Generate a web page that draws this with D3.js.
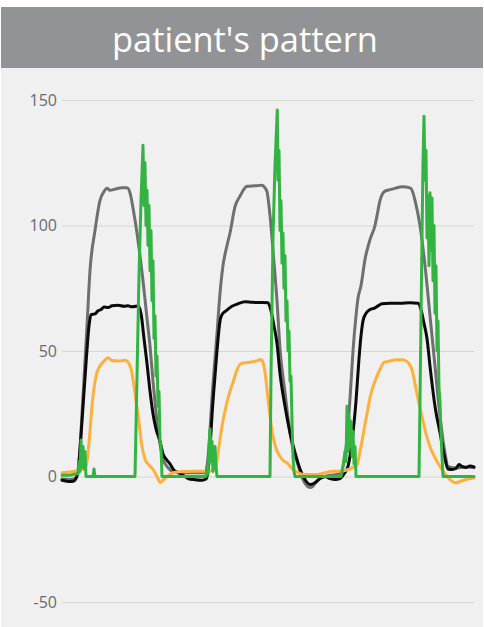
<!DOCTYPE html>
<html><head><meta charset="utf-8">
<script src="https://cdn.jsdelivr.net/npm/d3@7"></script>
<style>html,body{margin:0;padding:0;background:#fff;}svg{display:block;}</style>
</head><body>
<svg id="chart" width="484" height="627"></svg>
<script>
const title = "patient's pattern";
const yTicks = [-50, 0, 50, 100, 150];
const yTickLabels = ["-50", "0", "50", "100", "150"];
const timeDomain = [0, 412];

const graySeries = [[0,-1],[8,-1.2],[14,-0.5],[16,2],[21,32],[25,60],[28,82],[33,98],[38,110],[42,113.5],[45,114.8],[48,114],[53,114.5],[60,115],[65,115],[68,113],[71,107],[75,97],[78,88],[81,78],[85,63],[88,52],[91,38],[95,22],[98,13],[101,7],[106,3.5],[111,2],[118,1.6],[128,1.5],[138,1.5],[143,1.5],[145,4],[151,37],[155,57],[158,73],[161,84],[165,92],[168,97],[173,107.5],[178,111.7],[182,114.5],[185,115.6],[193,115.8],[200,116],[203,115],[205,113.5],[208,104],[211,90],[215,70],[218,51],[223,33.5],[228,17.5],[231,11],[235,6],[238,2],[241,-1.2],[245,-3.8],[248,-4.4],[251,-3.8],[254,-2.2],[258,-0.8],[263,0],[268,0.5],[275,0.8],[279,1.5],[281,4],[285,15],[288,31],[291,50],[294,64],[296,71],[299,76],[303,86.5],[308,94.4],[313,100],[316,106],[318,110],[323,113.7],[328,114.3],[333,114.8],[340,115.4],[348,115],[351,113],[353,110],[358,100],[363,84],[368,64],[373,44],[378,24],[383,9.4],[386,4],[391,3.5],[398,3.5],[405,3.8],[412,3.5]];

const blackSeries = [[0,-1.5],[4,-1.8],[8,-2],[12,-1.8],[14,-0.8],[16,2],[20,22],[24,45],[27,60],[29,64.5],[33,64.8],[36,66],[39,66.5],[42,67.5],[46,67.3],[50,68],[56,68.2],[62,67.8],[66,68],[70,67.6],[74,67.8],[76,68],[79,65],[82,55],[85,45],[88,34],[91,25],[94,19],[98,14],[101,9],[104,7],[108,5],[112,2.5],[116,1.5],[121,0.5],[126,-0.8],[133,-1.3],[140,-1.5],[144,-1],[146,2],[151,30],[155,50],[158,62],[160,64.5],[164,66],[170,67.8],[176,68.8],[183,69.6],[190,69.4],[198,69.3],[206,69.2],[209,66],[212,60],[215,53],[218,41],[223,28],[228,17.5],[233,9.5],[238,3],[243,-1.2],[248,-3.2],[253,-2.5],[258,-0.8],[263,0],[268,-0.8],[273,-1.2],[278,-0.8],[282,1],[286,4],[290,14],[294,30],[297,47],[299,56],[301,62],[304,65],[308,66.5],[312,67],[316,68],[320,68.8],[328,69],[338,69],[348,69.2],[356,69],[359,66.5],[362,61],[365,55],[368,44],[373,28],[378,17.4],[383,7],[386,3],[390,2.8],[394,3.2],[397,4.8],[400,4],[404,3.6],[408,4.2],[412,3.8]];

const orangeSeries = [[0,1.5],[8,1.8],[14,2.2],[18,2.8],[23,3],[25,6],[28,18],[30,28],[34,40],[38,44],[42,46],[46,47.3],[50,46.2],[56,46],[63,46.3],[67,45],[69,43],[72,36],[74,30],[76,25],[78,18],[80,12],[83,7],[87,4.5],[91,2.8],[95,0],[98,-2.4],[101,-1.5],[105,0],[111,1.5],[123,2],[133,2.1],[145,2.1],[151,2.5],[154,4],[157,12],[160,20],[164,28],[168,34],[171,37.5],[175,42.5],[179,45],[183,45.3],[188,45.5],[194,46],[199,46.6],[201,45.5],[203,41.5],[206,31],[209,21],[213,12.5],[218,8],[221,6.5],[225,5.4],[231,2.8],[236,1.5],[241,0.8],[248,0.8],[255,0.8],[263,1.5],[271,2.1],[278,2.1],[284,2.5],[290,3.5],[295,4.5],[298,10],[300,14],[304,23],[309,33],[313,38],[316,41],[319,43.5],[322,45.5],[328,46],[334,46.5],[340,46.5],[344,46],[347,45],[350,42.5],[353,37],[356,31],[360,24],[364,17],[367,13],[371,9],[375,6],[378,4],[382,1.5],[388,-1.2],[393,-2.5],[398,-2],[404,-1.2],[408,-0.8],[412,-0.5]];

const greenSeries = [[0,0.5],[8,0.5],[14,1],[16,1],[17,6],[18,2],[19,14.5],[20,4],[21,12],[22,3],[23,10],[24,0],[31,0],[32,3],[33,0],[73,0],[75,40],[77,80],[79,110],[81,132],[82,108],[83,125],[84,100],[85,114],[86,92],[87,108],[88,82],[89,98],[90,70],[91,86],[92,55],[93,64],[94,40],[95,48],[96,28],[97,34],[98,14],[99,12],[100,0],[144,0],[145,4],[146,1],[148,19],[149,6],[150,14],[151,2],[153,12],[154,4],[155,0],[208,0],[209,40],[211,95],[213,124],[215.3,146],[216,118],[217,130],[218,98],[219,110],[220,85],[221,97],[222,75],[223,88],[224,62],[225,70],[226,50],[227,58],[228,38],[229,40],[230,22],[231,8],[232,2],[233,0],[279,0],[281,4],[283,10],[284,6],[285,28],[286,10],[287,24],[288,12],[289,22],[290,8],[291,18],[292,5],[293,12],[294,0],[357,0],[358,30],[360,95],[361,125],[362,143.5],[363,118],[364,130],[365,95],[366,112],[367,84],[368,113],[369,90],[370,111],[371,78],[372,100],[373,65],[374,84],[375,50],[376,62],[377,35],[378,30],[379,17],[380,8],[381,0],[412,0]];

const seriesList = [
  {name: "gray", data: graySeries, color: "#6f6f6f", smooth: true},
  {name: "black", data: blackSeries, color: "#0a0a0a", smooth: true},
  {name: "orange", data: orangeSeries, color: "#fcb13c", smooth: true},
  {name: "green", data: greenSeries, color: "#33b341", smooth: false}
];

const W = 484, H = 627;
const svg = d3.select("#chart");

svg.append("rect").attr("x", 1).attr("y", 68).attr("width", W - 2).attr("height", H - 68).attr("fill", "#f0f0f0");
svg.append("rect").attr("x", 1).attr("y", 7).attr("width", W - 2).attr("height", 61).attr("fill", "#929396");
const tt = svg.append("text").attr("x", 245).attr("y", 52).attr("text-anchor", "middle")
  .attr("fill", "#ffffff").style("font-family", "'Open Sans', 'Noto Sans', sans-serif")
  .style("font-weight", 400).style("font-size", "34px").text(title);
const tw = tt.node().getComputedTextLength();
tt.style("font-size", (34 * 266 / tw) + "px");

const x = d3.scaleLinear().domain(timeDomain).range([62, 474]);
const y = d3.scaleLinear().domain([-50, 150]).range([602, 100]);

const yAxis = d3.axisLeft(y).tickValues(yTicks).tickSize(-(474 - 62)).tickPadding(5)
  .tickFormat((d, i) => yTickLabels[i]);
const g = svg.append("g").attr("transform", "translate(62,0)").call(yAxis);
g.select(".domain").remove();
g.selectAll(".tick line").attr("stroke", "#d6d6d6").attr("stroke-width", 1);
g.selectAll(".tick text").attr("fill", "#666a70").style("font-family", "'Open Sans', 'Noto Sans', sans-serif").style("font-size", "16px");

const lineSmooth = d3.line().x(d => x(d[0])).y(d => y(d[1])).curve(d3.curveMonotoneX);
const lineSharp = d3.line().x(d => x(d[0])).y(d => y(d[1])).curve(d3.curveLinear);

svg.append("g").selectAll("path").data(seriesList).join("path")
  .attr("d", s => (s.smooth ? lineSmooth : lineSharp)(s.data))
  .attr("fill", "none").attr("stroke", s => s.color).attr("stroke-width", 3)
  .attr("stroke-linejoin", "round").attr("stroke-linecap", "round");
</script>
</body></html>
